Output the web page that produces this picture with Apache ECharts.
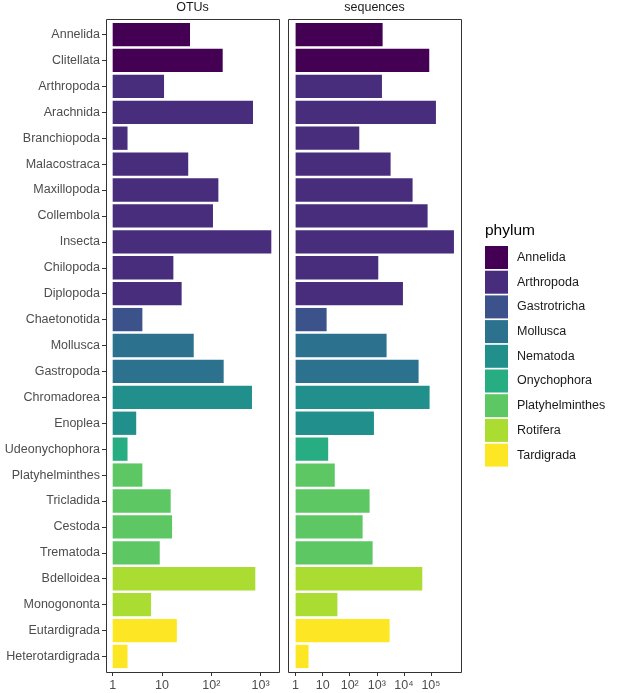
<!DOCTYPE html>
<html>
<head>
<meta charset="utf-8">
<script src="https://cdn.jsdelivr.net/npm/echarts@6/dist/echarts.min.js"></script>
<style>
  html, body { margin: 0; padding: 0; background: #fff; }
  #chart { width: 617px; height: 693px; }
</style>
</head>
<body>
<div id="chart"></div>
<script>
const taxa = ["Annelida","Clitellata","Arthropoda","Arachnida","Branchiopoda","Malacostraca","Maxillopoda","Collembola","Insecta","Chilopoda","Diplopoda","Chaetonotida","Mollusca","Gastropoda","Chromadorea","Enoplea","Udeonychophora","Platyhelminthes","Tricladida","Cestoda","Trematoda","Bdelloidea","Monogononta","Eutardigrada","Heterotardigrada"];
const taxonPhylum = ["Annelida","Annelida","Arthropoda","Arthropoda","Arthropoda","Arthropoda","Arthropoda","Arthropoda","Arthropoda","Arthropoda","Arthropoda","Gastrotricha","Mollusca","Mollusca","Nematoda","Nematoda","Onychophora","Platyhelminthes","Platyhelminthes","Platyhelminthes","Platyhelminthes","Rotifera","Rotifera","Tardigrada","Tardigrada"];
const otus = [37,170,11,700,2,34,139,108,1645,17,25,4,44,178,667,3,2,4,15,16,9,780,6,20,2];
const sequences = [1640,86700,1550,153000,225,3235,21000,75300,708000,1133,9240,14,2300,35000,89300,784,16,28,542,299,700,47900,35,2970,3];
const phyla = ["Annelida","Arthropoda","Gastrotricha","Mollusca","Nematoda","Onychophora","Platyhelminthes","Rotifera","Tardigrada"];
const phylumColors = ["#440154","#472D7B","#3B528B","#2C728E","#21908C","#27AD81","#5DC863","#AADC32","#FDE725"];
const panelTitles = ["OTUs","sequences"];
const otuTicks = [1,10,100,1000];
const seqTicks = [1,10,100,1000,10000,100000];
const tickLabels = {1:"1",10:"10",100:"10²",1000:"10³",10000:"10⁴",100000:"10⁵"};

const FONT = "'Liberation Sans', Arial, sans-serif";
const panelData = [otus, sequences];
const panelTicks = [otuTicks, seqTicks];
const panelExtent = [[0.732, 2356], [0.524, 1290000]];
// panel frames (ggplot panels); the category band area is inset by 0.1 band on each side
const frames = [
  {x: 106, y: 19, w: 173, h: 653},
  {x: 288, y: 19, w: 173, h: 653}
];
const pad = frames[0].h / (taxa.length + 0.2) * 0.1;

const xAxes = [0,1].map(p => ({
  type: 'log', logBase: 10, gridIndex: p,
  min: panelExtent[p][0], max: panelExtent[p][1],
  offset: pad,
  axisLine: {show: false},
  splitLine: {show: false},
  axisTick: {show: true, length: 4, lineStyle: {color: '#333', width: 1}, customValues: panelTicks[p]},
  axisLabel: {
    customValues: panelTicks[p], margin: 7,
    color: '#4d4d4d', fontSize: 12.5, fontFamily: FONT,
    formatter: v => tickLabels[Math.round(v)] || String(v)
  }
}));

const yAxes = [0,1].map(p => ({
  type: 'category', gridIndex: p, data: taxa, inverse: true,
  axisLine: {show: false},
  splitLine: {show: false},
  axisTick: {show: p === 0, length: 4, alignWithLabel: true, lineStyle: {color: '#333'}},
  axisLabel: {show: p === 0, color: '#4d4d4d', fontSize: 12.5, fontFamily: FONT, margin: 6}
}));

const series = [];
[0,1].forEach(p => {
  phyla.forEach((ph, k) => {
    series.push({
      type: 'bar', name: ph, xAxisIndex: p, yAxisIndex: p,
      barGap: '-100%', barCategoryGap: '10%',
      itemStyle: {color: phylumColors[k]},
      data: taxa.map((t, i) => taxonPhylum[i] === ph ? panelData[p][i] : '-')
    });
  });
});

const chart = echarts.init(document.getElementById('chart'), null, {renderer: 'canvas'});
chart.setOption({
  animation: false,
  backgroundColor: '#ffffff',
  grid: frames.map(f => ({left: f.x, top: f.y + pad, width: f.w, height: f.h - 2 * pad, show: false})),
  xAxis: xAxes,
  yAxis: yAxes,
  legend: {
    data: phyla, orient: 'vertical', left: 485, top: 246, padding: 0,
    icon: 'rect', itemWidth: 23, itemHeight: 23, itemGap: 1.7,
    selectedMode: false,
    textStyle: {color: '#1a1a1a', fontSize: 12.5, fontFamily: FONT, padding: [0,0,0,4]}
  },
  graphic: [
    ...frames.map(f => ({type: 'rect', z: 100, silent: true,
      shape: {x: f.x + 0.5, y: f.y + 0.5, width: f.w, height: f.h},
      style: {fill: null, stroke: '#333333', lineWidth: 1}})),
    {type: 'text', x: 192.5, y: 8, style: {text: panelTitles[0], align: 'center', verticalAlign: 'middle', fontSize: 12.5, fontFamily: FONT, fill: '#1a1a1a'}},
    {type: 'text', x: 374.5, y: 8, style: {text: panelTitles[1], align: 'center', verticalAlign: 'middle', fontSize: 12.5, fontFamily: FONT, fill: '#1a1a1a'}},
    {type: 'text', x: 485, y: 231, style: {text: 'phylum', align: 'left', verticalAlign: 'middle', fontSize: 15.5, fontFamily: FONT, fill: '#000'}}
  ],
  series: series
});
</script>
</body>
</html>
